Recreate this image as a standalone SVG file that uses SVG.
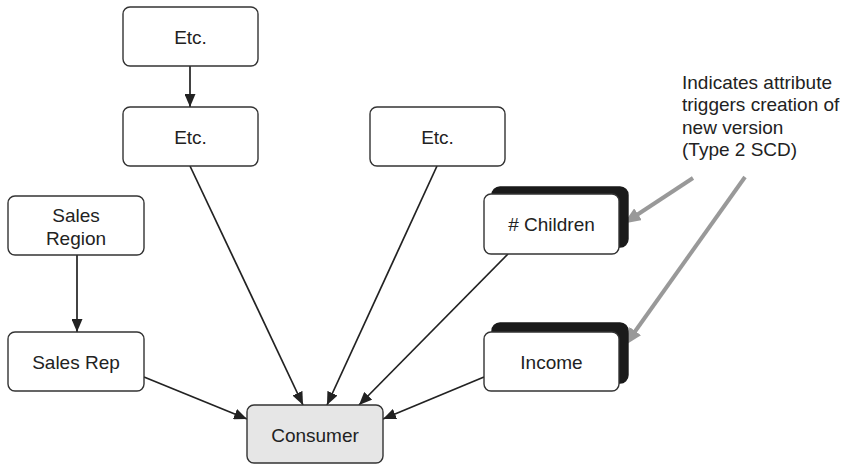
<svg xmlns="http://www.w3.org/2000/svg" width="844" height="464" viewBox="0 0 844 464">
<defs>
<style>
.box{fill:#fff;stroke:#333;stroke-width:1.4}
.shadow{fill:#1a1a1a;stroke:#1a1a1a;stroke-width:1.4}
.gray{fill:#e6e6e6;stroke:#333;stroke-width:1.4}
.lbl{font-family:"Liberation Sans",Arial,sans-serif;font-size:19px;fill:#222;text-anchor:middle}
.note{font-family:"Liberation Sans",Arial,sans-serif;font-size:19px;fill:#222}
.conn{stroke:#222;stroke-width:1.7;fill:none;marker-end:url(#ah)}
.call{stroke:#999;stroke-width:4;fill:none;marker-end:url(#gh)}
</style>
<marker id="ah" markerUnits="userSpaceOnUse" markerWidth="14" markerHeight="11" refX="13" refY="5.5" orient="auto">
<path d="M0,0 L13,5.5 L0,11 z" fill="#222"/>
</marker>
<marker id="gh" markerUnits="userSpaceOnUse" markerWidth="18" markerHeight="14" refX="6" refY="7" orient="auto">
<path d="M0,0 L17,7 L0,14 z" fill="#999"/>
</marker>
</defs>
<g id="connectors">
<line class="conn" x1="190" y1="66" x2="190" y2="107"/>
<line class="conn" x1="77" y1="255" x2="77" y2="332"/>
<line class="conn" x1="190" y1="166" x2="303" y2="405"/>
<line class="conn" x1="437" y1="166" x2="327" y2="405"/>
<line class="conn" x1="508" y1="254" x2="359" y2="405"/>
<line class="conn" x1="144" y1="377" x2="247" y2="419"/>
<line class="conn" x1="484" y1="377" x2="383" y2="419"/>
<line class="call" x1="693" y1="178" x2="633" y2="217.5"/>
<line class="call" x1="745" y1="177" x2="631.8" y2="336"/>
</g>
<g id="etc1"><rect class="box" x="123" y="7" width="135" height="59" rx="7"/><text class="lbl" x="190.5" y="43.5">Etc.</text></g>
<g id="etc2"><rect class="box" x="123" y="107" width="135" height="59" rx="7"/><text class="lbl" x="190.5" y="143.5">Etc.</text></g>
<g id="etc3"><rect class="box" x="370" y="107" width="135" height="59" rx="7"/><text class="lbl" x="437.5" y="143.5">Etc.</text></g>
<g id="sales-region"><rect class="box" x="8" y="196" width="136" height="59" rx="7"/><text class="lbl" x="76" y="222">Sales</text><text class="lbl" x="76" y="245">Region</text></g>
<g id="sales-rep"><rect class="box" x="8" y="332" width="136" height="59" rx="7"/><text class="lbl" x="76" y="368.5">Sales Rep</text></g>
<g id="children"><rect class="shadow" x="492" y="187" width="136" height="60" rx="8"/><rect class="box" x="484" y="194" width="135" height="60" rx="7"/><text class="lbl" x="551.5" y="230.5"># Children</text></g>
<g id="income"><rect class="shadow" x="492" y="323" width="136" height="60" rx="8"/><rect class="box" x="484" y="332" width="135" height="59" rx="7"/><text class="lbl" x="551.5" y="368.5">Income</text></g>
<g id="consumer"><rect class="gray" x="247" y="405" width="136" height="58" rx="7"/><text class="lbl" x="315" y="441.5">Consumer</text></g>
<g id="note">
<text class="note" x="682" y="89">Indicates attribute</text>
<text class="note" x="682" y="111">triggers creation of</text>
<text class="note" x="682" y="134">new version</text>
<text class="note" x="682" y="156">(Type 2 SCD)</text>
</g>
</svg>
